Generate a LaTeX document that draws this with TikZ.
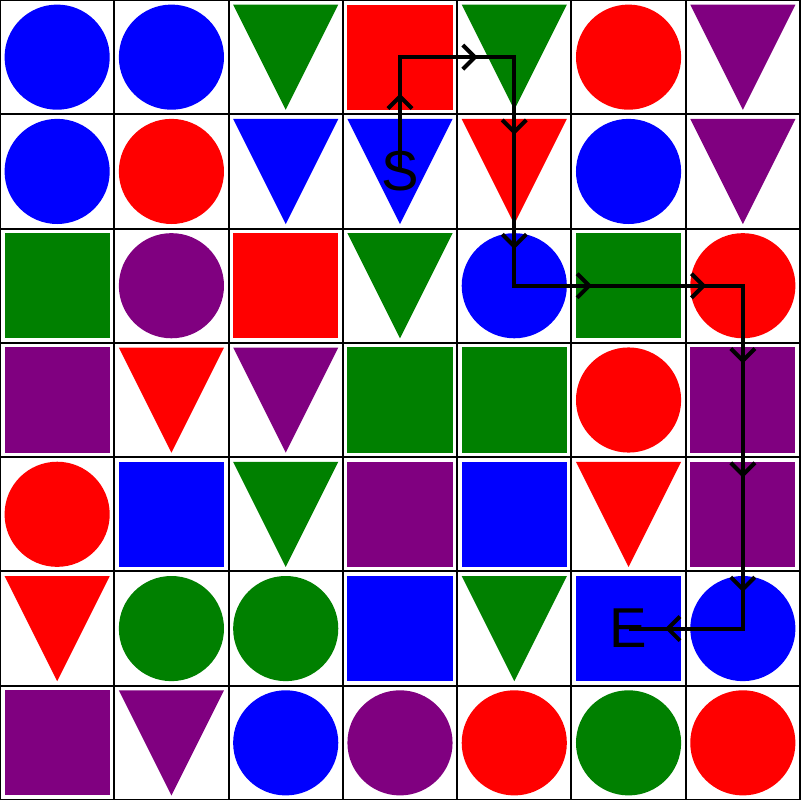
\documentclass[tikz,border=0pt]{standalone}
\usepackage{fontspec}
\usepackage{tikz}
\usetikzlibrary{arrows.meta,shapes.geometric,decorations.markings}
\newfontfamily\labelfont{Liberation Sans}
\definecolor{cblue}{RGB}{0,0,255}
\definecolor{cred}{RGB}{255,0,0}
\definecolor{cgreen}{RGB}{0,128,0}
\definecolor{cpurple}{RGB}{128,0,128}
\tikzset{
  circ/.style={circle, minimum size=0.92cm, inner sep=0pt},
  sq/.style={rectangle, minimum size=0.92cm, inner sep=0pt},
  tri/.style={isosceles triangle, isosceles triangle stretches, shape border rotate=-90, minimum width=0.92cm, minimum height=0.92cm, inner sep=0pt, yshift=0.175cm},
  gridline/.style={line width=0.5pt},
  route/.style={line width=1pt, postaction={decorate}, decoration={markings, mark=between positions 0.068 and 1 step 0.1 with {\arrow{Straight Barb[length=3pt,width=6pt]}}}},
  lbl/.style={font=\labelfont\fontsize{14}{14}\selectfont, inner sep=0pt}
}

\begin{document}
\begin{tikzpicture}
  \useasboundingbox (0,0) rectangle (7,7);
  \fill[white] (0,0) rectangle (7,7);

  % cells, row by row from the top
  \foreach \shp/\col [count=\c from 0] in {circ/cblue, circ/cblue, tri/cgreen, sq/cred, tri/cgreen, circ/cred, tri/cpurple}
    \node[\shp, fill=\col] (s-0-\c) at (\c+0.5,6.5) {};
  \foreach \shp/\col [count=\c from 0] in {circ/cblue, circ/cred, tri/cblue, tri/cblue, tri/cred, circ/cblue, tri/cpurple}
    \node[\shp, fill=\col] (s-1-\c) at (\c+0.5,5.5) {};
  \foreach \shp/\col [count=\c from 0] in {sq/cgreen, circ/cpurple, sq/cred, tri/cgreen, circ/cblue, sq/cgreen, circ/cred}
    \node[\shp, fill=\col] (s-2-\c) at (\c+0.5,4.5) {};
  \foreach \shp/\col [count=\c from 0] in {sq/cpurple, tri/cred, tri/cpurple, sq/cgreen, sq/cgreen, circ/cred, sq/cpurple}
    \node[\shp, fill=\col] (s-3-\c) at (\c+0.5,3.5) {};
  \foreach \shp/\col [count=\c from 0] in {circ/cred, sq/cblue, tri/cgreen, sq/cpurple, sq/cblue, tri/cred, sq/cpurple}
    \node[\shp, fill=\col] (s-4-\c) at (\c+0.5,2.5) {};
  \foreach \shp/\col [count=\c from 0] in {tri/cred, circ/cgreen, circ/cgreen, sq/cblue, tri/cgreen, sq/cblue, circ/cblue}
    \node[\shp, fill=\col] (s-5-\c) at (\c+0.5,1.5) {};
  \foreach \shp/\col [count=\c from 0] in {sq/cpurple, tri/cpurple, circ/cblue, circ/cpurple, circ/cred, circ/cgreen, circ/cred}
    \node[\shp, fill=\col] (s-6-\c) at (\c+0.5,0.5) {};

  \draw[gridline] (0,0) grid (7,7);

  % cell centres on the route
  \foreach \r/\c in {1/3, 0/3, 0/4, 1/4, 2/4, 2/5, 2/6, 3/6, 4/6, 5/6, 5/5}
    \coordinate (p-\r-\c) at (\c+0.5,6.5-\r);

  % route from S to E
  \draw[route] (p-1-3) -- (p-0-3) -- (p-0-4) -- (p-1-4) -- (p-2-4) -- (p-2-5)
    -- (p-2-6) -- (p-3-6) -- (p-4-6) -- (p-5-6) -- (p-5-5);

  \node[lbl] (lblS) at (p-1-3) {S};
  \node[lbl] (lblE) at (p-5-5) {E};
\end{tikzpicture}
\end{document}
